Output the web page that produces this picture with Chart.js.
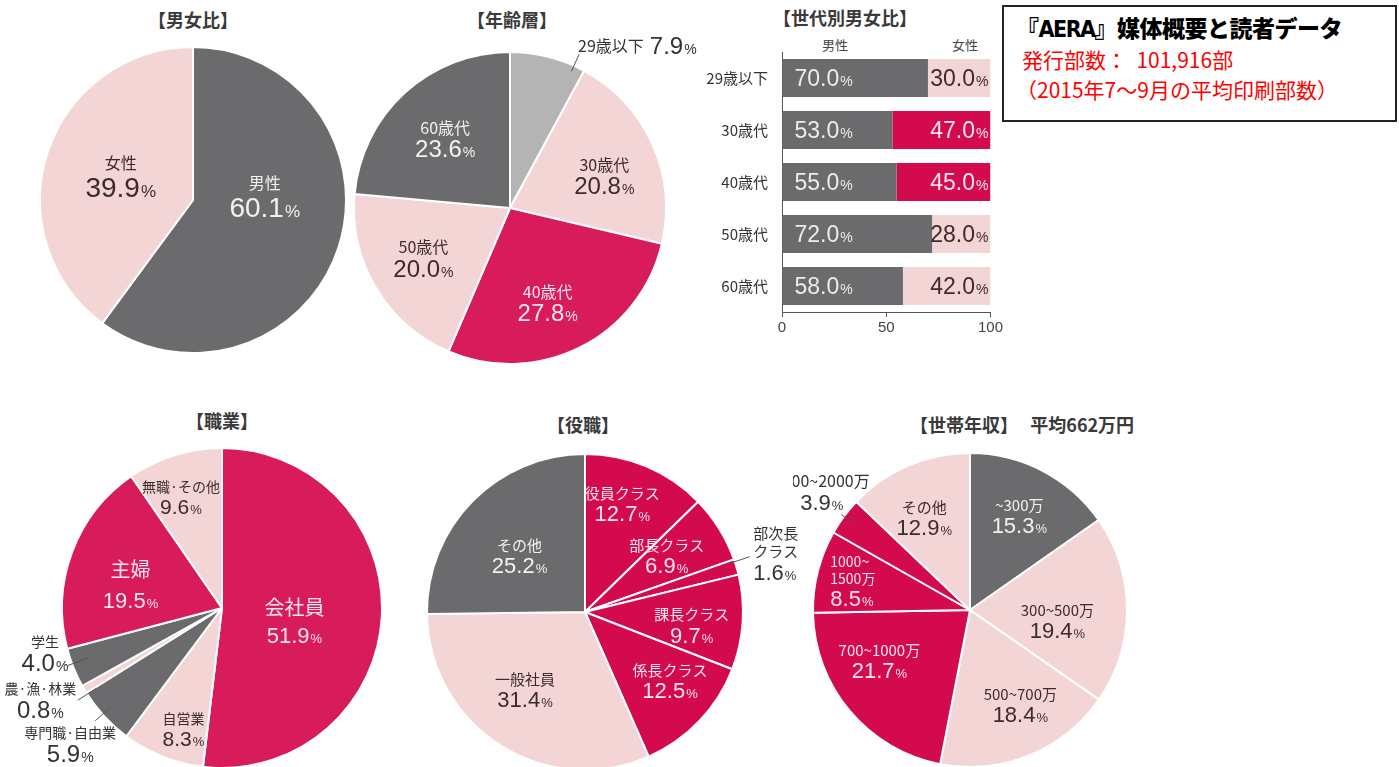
<!DOCTYPE html>
<html lang="ja">
  <head>
    <meta charset="UTF-8" />
    <title>AERA 媒体概要と読者データ</title>
    <style>
      * {
        box-sizing: border-box;
      }
      body,
      html {
        margin: 0;
        padding: 0;
        width: 1399px;
        height: 767px;
        overflow: hidden;
        background: #fff;
        font-family: "Noto Sans CJK JP", sans-serif;
        color: #333;
      }
      canvas {
        position: absolute;
      }
      .title {
        position: absolute;
        font-weight: 700;
        font-size: 18px;
        color: #3a3a3a;
        white-space: nowrap;
        transform: translateX(-50%);
        line-height: 1;
      }
      .head {
        position: absolute;
        font-size: 13px;
        color: #444;
        transform: translateX(-50%);
        line-height: 1;
      }
      #infobox {
        position: absolute;
        left: 1002px;
        top: 5px;
        width: 395px;
        height: 117px;
        border: 2px solid #222;
        padding: 9px 0 0 12px;
        line-height: 1;
      }
      #infobox .t1 {
        font-size: 23px;
        font-weight: 900;
        color: #000;
        margin-bottom: 8px;
        letter-spacing: -0.5px;
      }
      #infobox .t1 span {
        font-family: "DejaVu Sans Condensed", "DejaVu Sans", sans-serif;
        font-weight: 700;
        letter-spacing: -1.5px;
      }
      #infobox .t2 {
        font-size: 21px;
        color: #ff0000;
        margin-bottom: 9px;
        padding-left: 6px;
      }
      #infobox .t3 {
        font-size: 21px;
        color: #ff0000;
      }
    </style>
  </head>
  <body>
    <div class="title" style="left: 193px; top: 10px">【男女比】</div>
    <div class="title" style="left: 512px; top: 10px">【年齢層】</div>
    <div class="title" style="left: 845px; top: 8px">【世代別男女比】</div>
    <div class="head" style="left: 835px; top: 38px">男性</div>
    <div class="head" style="left: 965px; top: 38px">女性</div>
    <div class="title" style="left: 222px; top: 411px">【職業】</div>
    <div class="title" style="left: 583px; top: 415px">【役職】</div>
    <div class="title" style="left: 910px; top: 415px; transform: none">【世帯年収】&nbsp;&nbsp; 平均662万円</div>

    <div id="infobox">
      <div class="t1">『<span>AERA</span>』媒体概要と読者データ</div>
      <div class="t2">発行部数：&nbsp; 101,916部</div>
      <div class="t3">（2015年7～9月の平均印刷部数）</div>
    </div>

    <canvas id="sexChart" width="360" height="340" style="left: 13px; top: 30px"></canvas>
    <canvas id="ageChart" width="390" height="360" style="left: 315px; top: 28px"></canvas>
    <canvas id="genChart" width="315" height="305" style="left: 690px; top: 40px"></canvas>
    <canvas id="jobChart" width="444" height="340" style="left: 0px; top: 438px"></canvas>
    <canvas id="postChart" width="430" height="340" style="left: 370px; top: 442px"></canvas>
    <canvas id="incomeChart" width="354" height="340" style="left: 793px; top: 440px"></canvas>

    <script src="https://cdn.jsdelivr.net/npm/chart.js"></script>
    <script>
      // data
      const sexLabels = ["男性", "女性"];
      const sexValues = [60.1, 39.9];

      const ageLabels = ["29歳以下", "30歳代", "40歳代", "50歳代", "60歳代"];
      const ageValues = [7.9, 20.8, 27.8, 20.0, 23.6];

      const genCategories = ["29歳以下", "30歳代", "40歳代", "50歳代", "60歳代"];
      const genMale = [70.0, 53.0, 55.0, 72.0, 58.0];
      const genFemale = [30.0, 47.0, 45.0, 28.0, 42.0];
      const genTicks = [0, 50, 100];

      const jobLabels = ["会社員", "自営業", "専門職·自由業", "農·漁·林業", "学生", "主婦", "無職·その他"];
      const jobValues = [51.9, 8.3, 5.9, 0.8, 4.0, 19.5, 9.6];

      const postLabels = ["役員クラス", "部長クラス", "部次長\nクラス", "課長クラス", "係長クラス", "一般社員", "その他"];
      const postValues = [12.7, 6.9, 1.6, 9.7, 12.5, 31.4, 25.2];

      const incomeLabels = ["~300万", "300~500万", "500~700万", "700~1000万", "1000~\n1500万", "1500~2000万", "その他"];
      const incomeValues = [15.3, 19.4, 18.4, 21.7, 8.5, 3.9, 12.9];

      // colours
      const GRAY = "#6b6b6d";
      const PINK = "#f4d5d5";
      const LGRAY = "#b4b4b4";
      const RED = "#d81b5b";
      const RED2 = "#d30a4e";

      const sexColors = [GRAY, PINK];
      const ageColors = [LGRAY, PINK, RED, PINK, GRAY];
      const genFemaleColors = [PINK, RED2, RED2, PINK, PINK];
      const jobColors = [RED, PINK, GRAY, PINK, GRAY, RED, PINK];
      const postColors = [RED2, RED2, RED2, RED2, RED2, PINK, GRAY];
      const incomeColors = [GRAY, PINK, PINK, RED2, RED2, RED2, PINK];

      // label placement: f = fraction of radius, da = degrees from slice middle
      const sexPlace = [{ f: 0.47, da: -22 }, { f: 0.5, da: 1 }];
      const agePlace = [
        { f: 1.13, da: 8.5, inline: true, align: "left", leader: [0.96, 1.08, 10] },
        { f: 0.64, da: 5 },
        { f: 0.65, da: 5 },
        { f: 0.64, da: 1 },
        { f: 0.61, da: -0.5 },
      ];
      const jobPlace = [
        { f: 0.46, da: 7, name: 20, value: 22, gap: 28 },
        { f: 0.79, da: -4 },
        { f: 1.27, da: 1, value: 24, leader: [0.94, 1.06, 1] },
        { f: 1.27, da: 4, value: 24, leader: [0.93, 1.07, -2] },
        { f: 1.14, da: 8, value: 24, leader: [0.9, 1.03, 1.5] },
        { f: 0.59, da: -6, name: 20, value: 22, gap: 31 },
        { f: 0.74, da: -3 },
      ];
      const postPlace = [
        { f: 0.73, da: -4 },
        { f: 0.63, da: -3 },
        { f: 1.13, da: -3, align: "left", value: 22, leader: [0.95, 1.1, -2] },
        { f: 0.68, da: 3 },
        { f: 0.69, da: -5 },
        { f: 0.62, da: 5 },
        { f: 0.55, da: -3.5 },
      ];
      const incomePlace = [
        { f: 0.68, da: 0 },
        { f: 0.56, da: 6.5 },
        { f: 0.68, da: -6 },
        { f: 0.66, da: 11 },
        { f: 0.91, da: -2.2, align: "left", name: 14, gap: 19 },
        { f: 1.21, da: 2.1, name: 16, value: 22, leader: [0.92, 1.02, 0] },
        { f: 0.66, da: -3 },
      ];

      const NUM_FONT = '"Liberation Sans", "Noto Sans CJK JP", sans-serif';
      const JP_FONT = '"Noto Sans CJK JP", sans-serif';

      function textColor(bg, outside) {
        if (outside) return "#333";
        if (bg === PINK || bg === LGRAY) return "#3b2b2b";
        if (bg === GRAY) return "#f2f2f2";
        return "#fbe6ee";
      }

      function valueWidth(ctx, v, size) {
        ctx.font = size + "px " + NUM_FONT;
        const w1 = ctx.measureText(v.toFixed(1)).width;
        ctx.font = Math.round(size * 0.6) + "px " + NUM_FONT;
        return w1 + 1 + ctx.measureText("%").width;
      }

      function drawValue(ctx, v, x, y, size, align, color) {
        const num = v.toFixed(1);
        const total = valueWidth(ctx, v, size);
        let x0 = x - total / 2;
        if (align === "left") x0 = x;
        if (align === "right") x0 = x - total;
        ctx.fillStyle = color;
        ctx.textAlign = "left";
        ctx.textBaseline = "alphabetic";
        const base = y + size * 0.36;
        ctx.font = size + "px " + NUM_FONT;
        const w1 = ctx.measureText(num).width;
        ctx.fillText(num, x0, base);
        ctx.font = Math.round(size * 0.6) + "px " + NUM_FONT;
        ctx.fillText("%", x0 + w1 + 1, base);
      }

      const pieLabels = {
        id: "pieLabels",
        afterDatasetsDraw(chart, args, opts) {
          const ctx = chart.ctx;
          const meta = chart.getDatasetMeta(0);
          const ds = chart.data.datasets[0];
          ctx.save();
          meta.data.forEach((arc, i) => {
            const p = opts.place[i];
            const mid = (arc.startAngle + arc.endAngle) / 2;
            const polar = (f, da) => {
              const a = mid + (da * Math.PI) / 180;
              return [arc.x + Math.cos(a) * arc.outerRadius * f, arc.y + Math.sin(a) * arc.outerRadius * f];
            };
            const outside = p.f > 1;
            const color = textColor(ds.backgroundColor[i], outside);
            const nameSize = p.name || opts.name;
            const valSize = p.value || opts.value;
            const gap = p.gap || (outside ? (nameSize + valSize) / 2 + 2 : opts.gap);
            const align = p.align || "center";
            const [x, y] = polar(p.f, p.da);

            if (p.leader) {
              const [a, b, d] = p.leader;
              const s = polar(a, d);
              const e = polar(b, d);
              ctx.strokeStyle = "#555";
              ctx.lineWidth = 1;
              ctx.beginPath();
              ctx.moveTo(s[0], s[1]);
              ctx.lineTo(e[0], e[1]);
              ctx.stroke();
            }

            const lines = chart.data.labels[i].split("\n");
            if (p.inline) {
              ctx.font = nameSize + "px " + JP_FONT;
              ctx.fillStyle = color;
              ctx.textAlign = "left";
              ctx.textBaseline = "middle";
              ctx.fillText(lines[0], x, y + 1);
              const w = ctx.measureText(lines[0]).width;
              drawValue(ctx, ds.data[i], x + w + 6, y, valSize, "left", color);
              return;
            }

            const pitch = nameSize * 1.22;
            const span = (lines.length - 1) * pitch + gap;
            const cy = y - span / 2;
            ctx.textAlign = align === "left" ? "left" : "center";
            ctx.font = nameSize + "px " + JP_FONT;
            ctx.fillStyle = color;
            ctx.textBaseline = "middle";
            lines.forEach((ln, k) => {
              ctx.fillText(ln, x, cy + k * pitch);
            });
            drawValue(ctx, ds.data[i], x, cy + (lines.length - 1) * pitch + gap, valSize, align, color);
          });
          ctx.restore();
        },
      };

      function makePie(id, labels, values, colors, radius, place, sizes) {
        return new Chart(document.getElementById(id), {
          type: "pie",
          data: {
            labels: labels,
            datasets: [
              {
                data: values,
                backgroundColor: colors,
                borderColor: "#ffffff",
                borderWidth: 2,
                radius: radius,
              },
            ],
          },
          options: {
            responsive: false,
            animation: false,
            events: [],
            layout: { padding: 0 },
            plugins: {
              legend: { display: false },
              tooltip: { enabled: false },
              pieLabels: Object.assign({ place: place }, sizes),
            },
          },
          plugins: [pieLabels],
        });
      }

      makePie("sexChart", sexLabels, sexValues, sexColors, 153, sexPlace, { name: 16, value: 28, gap: 24 });
      makePie("ageChart", ageLabels, ageValues, ageColors, 156, agePlace, { name: 16, value: 24, gap: 21 });
      makePie("jobChart", jobLabels, jobValues, jobColors, 160, jobPlace, { name: 14, value: 21, gap: 20 });
      makePie("postChart", postLabels, postValues, postColors, 158, postPlace, { name: 15, value: 22, gap: 20 });
      makePie("incomeChart", incomeLabels, incomeValues, incomeColors, 157, incomePlace, { name: 15, value: 22, gap: 20 });

      // stacked bar labels
      const barLabels = {
        id: "barLabels",
        afterDatasetsDraw(chart) {
          const ctx = chart.ctx;
          ctx.save();
          chart.data.datasets.forEach((ds, d) => {
            chart.getDatasetMeta(d).data.forEach((bar, i) => {
              const v = ds.data[i];
              if (d === 0) {
                drawValue(ctx, v, bar.base + 12, bar.y, 23, "left", "#ececec");
              } else {
                const bg = genFemaleColors[i];
                drawValue(ctx, v, bar.x - 2, bar.y, 23, "right", bg === PINK ? "#3b2b2b" : "#fbe6ee");
              }
            });
          });
          ctx.restore();
        },
      };

      new Chart(document.getElementById("genChart"), {
        type: "bar",
        data: {
          labels: genCategories,
          datasets: [
            { label: "男性", data: genMale, backgroundColor: GRAY, barPercentage: 0.73, categoryPercentage: 1 },
            { label: "女性", data: genFemale, backgroundColor: genFemaleColors, barPercentage: 0.73, categoryPercentage: 1 },
          ],
        },
        options: {
          indexAxis: "y",
          responsive: false,
          animation: false,
          events: [],
          layout: { padding: { top: 12, left: 0, right: 0, bottom: 0 } },
          plugins: { legend: { display: false }, tooltip: { enabled: false } },
          scales: {
            x: {
              stacked: true,
              min: 0,
              max: 100,
              afterBuildTicks: (s) => {
                s.ticks = genTicks.map((v) => ({ value: v }));
              },
              afterFit: (s) => {
                s.height = 33;
              },
              grid: { drawOnChartArea: false, tickLength: 5, color: "#555" },
              border: { color: "#555", width: 1 },
              ticks: { color: "#444", font: { size: 15, family: NUM_FONT }, padding: 2, maxRotation: 0 },
            },
            y: {
              stacked: true,
              afterFit: (s) => {
                s.width = 92;
                s.paddingTop = 0;
                s.paddingBottom = 0;
              },
              grid: { drawOnChartArea: false, tickLength: 0 },
              border: { color: "#555", width: 1 },
              ticks: { color: "#333", font: { size: 15, family: JP_FONT }, padding: 14 },
            },
          },
        },
        plugins: [barLabels],
      });
    </script>
  </body>
</html>
